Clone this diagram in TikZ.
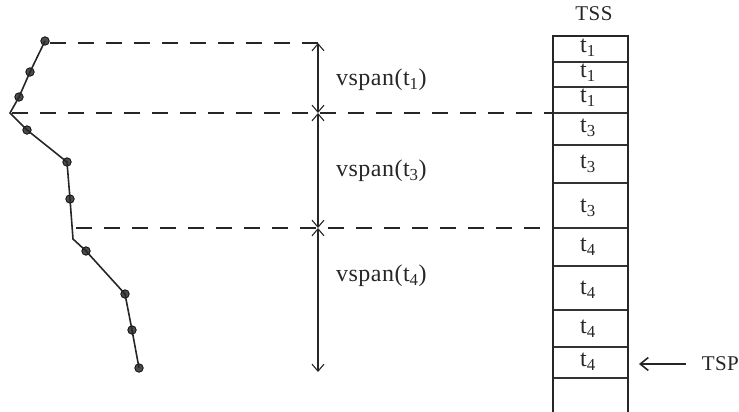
\documentclass[tikz,border=0pt]{standalone}
\usepackage{fontspec}
\setmainfont{Liberation Serif}[LetterSpace=2]
\usetikzlibrary{arrows.meta}
\begin{document}
\begin{tikzpicture}[x=1pt,y=-1pt,
  dot/.style={circle,draw=black,fill=black!70,inner sep=0pt,minimum size=8.5pt,line width=0.7pt},
  poly/.style={line width=1.6pt,black!85},
  guide/.style={dash pattern=on 16pt off 12pt,line width=1.2pt,black!85},
  span/.style={line width=1.1pt,black!85,{Straight Barb[length=7pt,width=12pt,line width=1.1pt]}-{Straight Barb[length=7pt,width=12pt,line width=1.1pt]}},
  lbl/.style={font=\fontsize{24}{28}\selectfont,text=black!85,inner sep=0pt},
  cell/.style={font=\fontsize{24}{28}\selectfont,text=black!85,inner sep=0pt},
  small/.style={font=\fontsize{21}{25}\selectfont,text=black!85,inner sep=0pt},
  wall/.style={line width=2.4pt,black!85},
  sep/.style={line width=1.1pt,black!80}]
\useasboundingbox (0,0) rectangle (739,412);
% polyline
\node[dot] (p1) at (45,41) {};
\node[dot] (p2) at (30,72) {};
\node[dot] (p3) at (19,97) {};
\coordinate (v1) at (10,113);
\node[dot] (p4) at (27,130) {};
\node[dot] (p5) at (67,162) {};
\node[dot] (p6) at (70,199) {};
\coordinate (v2) at (73,239);
\node[dot] (p7) at (86,251) {};
\node[dot] (p8) at (125,294) {};
\node[dot] (p9) at (132,330) {};
\node[dot] (p10) at (139,368) {};
\draw[poly] (p1.center) -- (p2.center) -- (p3.center) -- (v1) -- (p4.center) -- (p5.center) -- (p6.center) -- (v2) -- (p7.center) -- (p8.center) -- (p9.center) -- (p10.center);
% TSS box geometry
\coordinate (bl) at (553,36);
\coordinate (br) at (628,36);
\coordinate (bbl) at (553,412);
\coordinate (bbr) at (628,412);
% dashed guides
\coordinate (g1s) at (50,43);
\coordinate (g1e) at (328,43);
\coordinate (g2s) at (12,113);
\coordinate (g2e) at (553,113);
\coordinate (g3s) at (76,228);
\coordinate (g3e) at (553,228);
\draw[guide] (g1s) -- (g1e);
\draw[guide] (g2s) -- (g2e);
\draw[guide] (g3s) -- (g3e);
% spans
\coordinate (a0) at (318,43);
\coordinate (a1) at (318,113);
\coordinate (a2) at (318,228);
\coordinate (a3) at (318,372);
\draw[span] (a0) -- (a1);
\draw[span] (a1) -- (a2);
\draw[span] (a2) -- (a3);
\node[lbl,anchor=west] (s1) at (336,80) {vspan(t\textsubscript{1})};
\node[lbl,anchor=west] (s3) at (336,171) {vspan(t\textsubscript{3})};
\node[lbl,anchor=west] (s4) at (336,276) {vspan(t\textsubscript{4})};
% TSS box
\foreach \y/\n in {62/c1,87/c2,113/c3,145/c4,183/c5,228/c6,266/c7,310/c8,347/c9,378/c10}{
  \coordinate (\n l) at (553,\y);
  \coordinate (\n r) at (628,\y);
  \draw[sep] (\n l) -- (\n r);
}
\draw[wall] (bbl) -- (bl) -- (br) -- (bbr);
\node[small] (tss) at (594,14) {TSS};
\foreach \y/\s/\n in {48/1/l1,73/1/l2,98/1/l3,128/3/l4,164/3/l5,208/3/l6,247/4/l7,290/4/l8,329/4/l9,362/4/l10}{
  \node[cell] (\n) at (588,\y) {t\textsubscript{\s}};
}
% TSP pointer
\node[small,anchor=east] (tsp) at (739,364) {TSP};
\coordinate (tspa) at (686,364);
\coordinate (tspb) at (639,364);
\draw[line width=1.8pt,black!85,-{Straight Barb[length=8pt,width=13pt,line width=1.6pt]}] (tspa) -- (tspb);
\end{tikzpicture}
\end{document}
